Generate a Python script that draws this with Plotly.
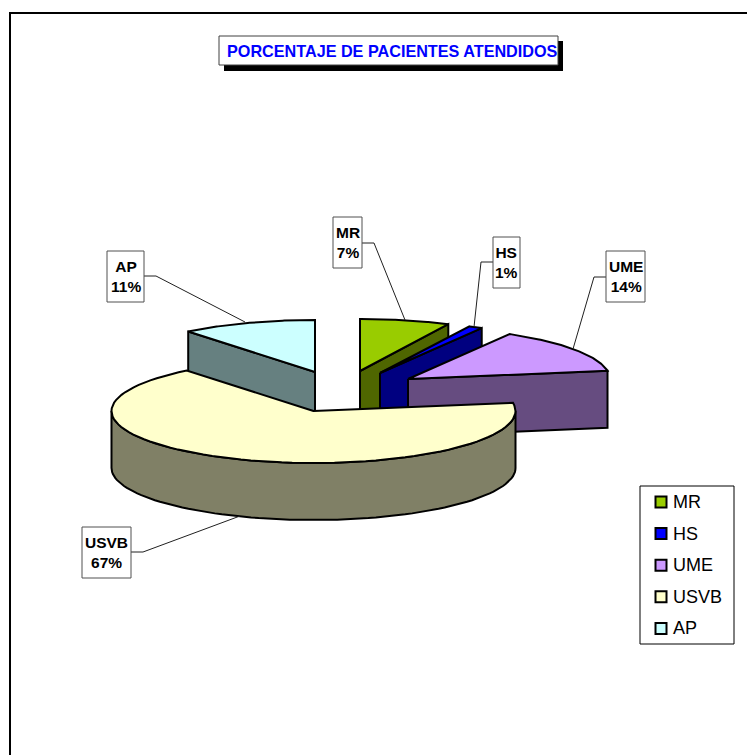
import math
import plotly.graph_objects as go

# --- data ---
categories = ["MR", "HS", "UME", "USVB", "AP"]
values = [7.2, 1.2, 14.1, 66.7, 10.8]
top_colors = ["#99CC00", "#0000FF", "#CC99FF", "#FFFFCC", "#CCFFFF"]
side_colors = ["#4F6600", "#000080", "#664C80", "#808066", "#668080"]
title_text = "PORCENTAJE DE PACIENTES ATENDIDOS"

# --- layout geometry (pixel space of the page) ---
W, H = 747, 755
RX, RY, DEPTH = 202, 52, 57
apex = {"MR": (360, 371), "HS": (380, 373), "UME": (408, 379), "USVB": (313.5, 411), "AP": (315, 372)}
label_box = {"MR": (333, 217, 362, 268), "HS": (493, 237, 520, 288), "UME": (606, 251, 645, 302),
             "USVB": (82, 527, 131, 578), "AP": (107, 251, 144, 302)}
leader = {"MR": [(362, 243), (374, 243), (405, 320)], "HS": [(493, 262), (481, 262), (474, 327)],
          "UME": [(606, 277), (594, 277), (573, 349)], "USVB": [(131, 552), (143, 552), (240, 516)],
          "AP": [(144, 276), (156, 276), (245, 322)]}
draw_order = ["MR", "HS", "UME", "AP", "USVB"]

total = sum(values)
angles = {}
acc = 0.0
for c, v in zip(categories, values):
    angles[c] = (acc / total * 2 * math.pi, (acc + v) / total * 2 * math.pi)
    acc += v


def rim(c, a, dy=0.0):
    ax, ay = apex[c]
    return ax + RX * math.sin(a), ay - RY * math.cos(a) + dy


def arc(c, a0, a1, dy=0.0, n=80):
    return [rim(c, a0 + (a1 - a0) * i / n, dy) for i in range(n + 1)]


def poly(pts, fill, line_width=2.0):
    return go.Scatter(x=[p[0] for p in pts] + [pts[0][0]], y=[p[1] for p in pts] + [pts[0][1]],
                      mode="lines", fill="toself", fillcolor=fill,
                      line=dict(color="black", width=line_width), hoverinfo="skip", showlegend=False)


fig = go.Figure()
for c in draw_order:
    i = categories.index(c)
    a0, a1 = angles[c]
    ax, ay = apex[c]
    if c == "USVB":
        # outer wall: the part of the rim that faces the viewer
        lo, hi = math.pi / 2, 3 * math.pi / 2
        fig.add_trace(poly(arc(c, lo, hi) + arc(c, lo, hi, DEPTH)[::-1], side_colors[i]))
    else:
        # radial wall seen from the front
        p = rim(c, a0 if c == "AP" else a1)
        fig.add_trace(poly([(ax, ay), p, (p[0], p[1] + DEPTH), (ax, ay + DEPTH)], side_colors[i]))
    # top face
    fig.add_trace(poly([(ax, ay)] + arc(c, a0, a1), top_colors[i]))

shapes = [
    dict(type="rect", x0=10, y0=13, x1=W + 20, y1=H + 20, line=dict(color="black", width=2), layer="below"),
    dict(type="rect", x0=224, y0=41, x1=563, y1=71, fillcolor="black", line=dict(width=0)),
    dict(type="rect", x0=219, y0=36, x1=558, y1=65, fillcolor="white", line=dict(color="#404040", width=1)),
    dict(type="rect", x0=640, y0=486, x1=734, y1=644, fillcolor="white", line=dict(color="black", width=1)),
]
annotations = [dict(x=392, y=51, text=f"<b>{title_text}</b>", showarrow=False,
                    font=dict(family="Liberation Sans", size=16.2, color="#0000FF"))]

for c, v in zip(categories, values):
    x0, y0, x1, y1 = label_box[c]
    shapes.append(dict(type="rect", x0=x0, y0=y0, x1=x1, y1=y1, fillcolor="white",
                       line=dict(color="#505050", width=1)))
    annotations.append(dict(x=(x0 + x1) / 2, y=(y0 + y1) / 2, text=f"<b>{c}<br>{round(v)}%</b>", showarrow=False,
                            font=dict(family="Liberation Sans", size=15.5, color="black")))
    pts = leader[c]
    fig.add_trace(go.Scatter(x=[p[0] for p in pts], y=[p[1] for p in pts], mode="lines",
                             line=dict(color="#202020", width=1), hoverinfo="skip", showlegend=False))

# legend entries
for i, c in enumerate(categories):
    yc = 502 + i * 31.6
    shapes.append(dict(type="rect", x0=655.5, y0=yc - 5.5, x1=666.5, y1=yc + 5.5, fillcolor=top_colors[i],
                       line=dict(color="black", width=2)))
    annotations.append(dict(x=671, y=yc, text=c, showarrow=False, xanchor="left",
                            font=dict(family="Liberation Sans", size=18, color="black")))

fig.update_layout(
    width=W, height=H, margin=dict(l=0, r=0, t=0, b=0), paper_bgcolor="white", plot_bgcolor="white",
    showlegend=False, shapes=shapes, annotations=annotations,
    xaxis=dict(range=[0, W], visible=False, fixedrange=True),
    yaxis=dict(range=[H, 0], visible=False, fixedrange=True),
)
fig.write_html("out.html", config={"displayModeBar": False},
               post_script="document.body.style.margin='0';document.body.style.overflow='hidden';")
